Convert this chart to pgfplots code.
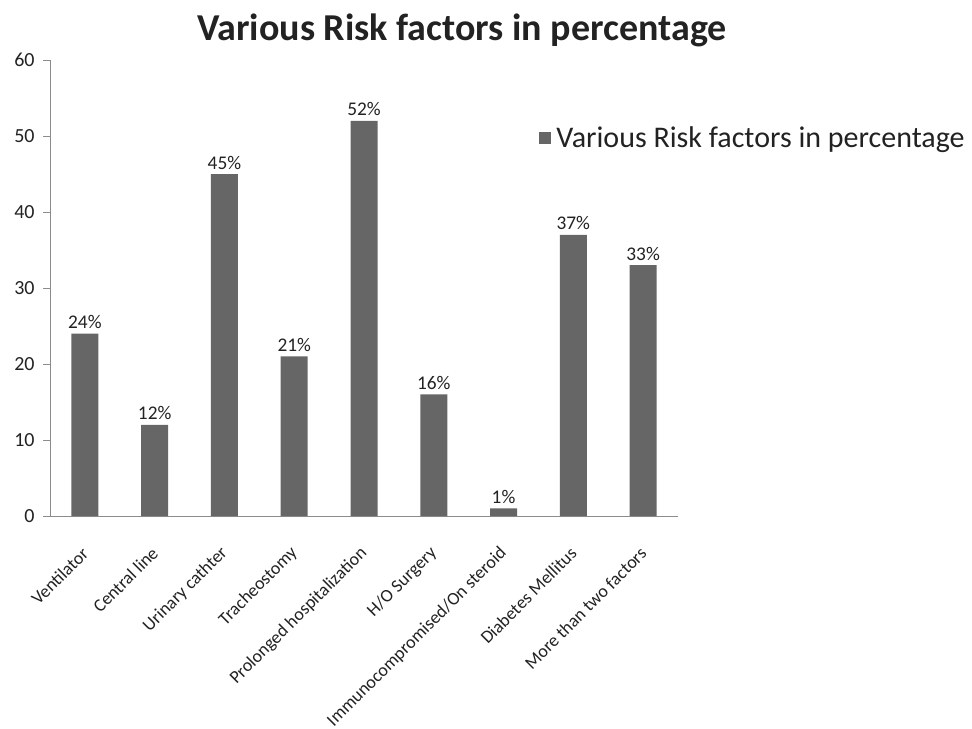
\documentclass[border=0pt]{standalone}
\usepackage{pgfplots}
\pgfplotsset{compat=1.18}
\usepackage{fontspec}
\setmainfont{Carlito}

\definecolor{barcol}{HTML}{666666}
\definecolor{axcol}{HTML}{8C8C8C}
\definecolor{txtcol}{HTML}{222222}

\pgfplotstableread{
x value
0 24
1 12
2 45
3 21
4 52
5 16
6 1
7 37
8 33
}\riskdata

\begin{document}
\begin{tikzpicture}
\path[use as bounding box] (-37.5pt,-159.75pt) rectangle (691.5pt,387pt);
\begin{axis}[
  at={(0,0)}, anchor=south west,
  scale only axis,
  width=471pt, height=342pt,
  xmin=-0.5, xmax=8.5,
  ymin=0, ymax=60,
  ytick={0,10,...,60},
  xtick={0,...,8},
  xticklabels={Ventilator, Central line, Urinary cathter, Tracheostomy,
    Prolonged hospitalization, H/O Surgery, Immunocompromised/On steroid,
    Diabetes Mellitus, More than two factors},
  x tick label style={xshift=1pt, yshift=-20pt, rotate=45, anchor=east,
    inner sep=1pt, font=\fontsize{13.5}{15}\selectfont, text=txtcol},
  y tick label style={font=\fontsize{15}{17}\selectfont, text=txtcol, xshift=-3pt},
  /pgf/number format/assume math mode=true,
  major x tick style={draw=none},
  extra x ticks={-0.5,0.5,...,8.5},
  extra x tick labels={},
  extra x tick style={major tick length=5pt, tick style={draw=axcol}},
  axis lines=left,
  axis line style={draw=axcol, -},
  tick style={draw=axcol},
  tick align=outside,
  major tick length=5pt,
  ybar,
  bar width=20.25pt,
  nodes near coords={\pgfmathprintnumber{\pgfplotspointmeta}\%},
  every node near coord/.append style={font=\fontsize{14.5}{16}\selectfont, text=txtcol},
  legend style={at={(0.772,0.829)}, anchor=west, draw=none, fill=none,
    font=\fontsize{22.5}{25}\selectfont, text=txtcol,
    /tikz/every even column/.style={column sep=0pt}},
  legend image code/.code={\fill[barcol] (0pt,-4.5pt) rectangle (9pt,4.5pt);},
]
\addplot[fill=barcol, draw=none] table[x=x, y=value] {\riskdata};
\addlegendentry{\hspace{2pt}Various Risk factors in percentage}
\end{axis}
\node[font=\fontsize{28.5}{31}\selectfont\bfseries, text=txtcol] at (309pt,364pt) {Various Risk factors in percentage};
\end{tikzpicture}
\end{document}
